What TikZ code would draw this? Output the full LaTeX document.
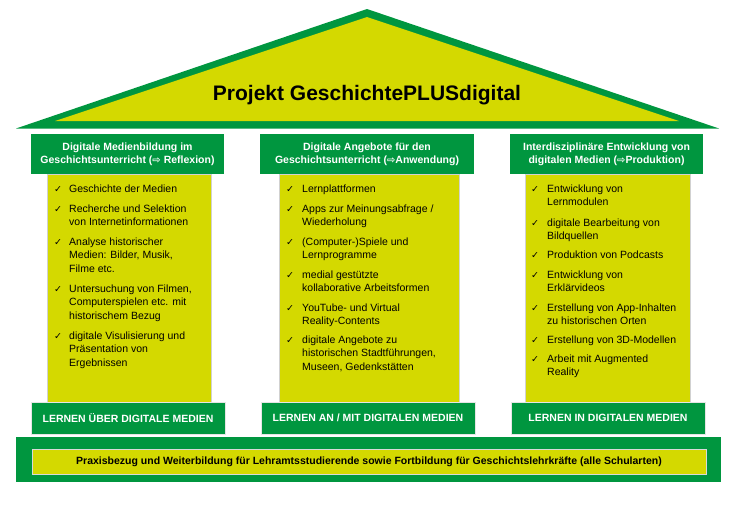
\documentclass[tikz,border=0pt]{standalone}
\usepackage{fontspec}
\setmainfont{Liberation Sans}
\newfontfamily\dejavu{DejaVu Sans}
\definecolor{pgreen}{HTML}{00963F}
\definecolor{pyellow}{HTML}{D4D900}
\newcommand\arr{{\dejavu\fontsize{10}{10}\selectfont ⇨}}
\begin{document}
\begin{tikzpicture}[x=1pt,y=-1pt,
  col/.style={fill=pyellow, draw=black!18, line width=0.4pt, inner sep=0},
  hdr/.style={fill=pgreen, text=white, font=\bfseries\fontsize{10.5}{13.3}\selectfont, align=center, inner sep=0},
  foot/.style={fill=pgreen, draw=black!10, line width=0.4pt, text=white, font=\bfseries\fontsize{10.5}{12}\selectfont, inner sep=0},
  chk/.style={anchor=base west, inner sep=0, font=\dejavu\fontsize{9.5}{9.5}\selectfont},
  itm/.style={anchor=base west, inner sep=0, font=\fontsize{10.5}{13.5}\selectfont}
]
\useasboundingbox (0,0) rectangle (735,520);
% roof
\fill[pgreen] (367,9) -- (719,128.5) -- (16,128.5) -- cycle;
\fill[pyellow] (367,17) -- (679,121) -- (55,121) -- cycle;
\node[anchor=base, inner sep=0, font=\bfseries\fontsize{21}{24}\selectfont] (title) at (367,100) {Projekt GeschichtePLUSdigital};
% columns
\node[col, minimum width=164, minimum height=228] (c1) at (129,288) {};
\node[col, minimum width=180, minimum height=228] (c2) at (369,288) {};
\node[col, minimum width=165, minimum height=228] (c3) at (607.5,288) {};
% headers
\node[hdr, minimum width=193, minimum height=40] (h1) at (127.5,154) {Digitale Medienbildung im\\Geschichtsunterricht (\arr\ Reflexion)};
\node[hdr, minimum width=214, minimum height=40] (h2) at (367,154) {Digitale Angebote für den\\Geschichtsunterricht (\arr Anwendung)};
\node[hdr, minimum width=193, minimum height=40] (h3) at (606.5,154) {Interdisziplinäre Entwicklung von\\digitalen Medien (\arr Produktion)};
% items left
\node[chk] (k1) at (54,192) {✓};
\node[itm] (l1) at (69,192) {\begin{tabular}[t]{@{}l@{}}Geschichte der Medien\end{tabular}};
\node[chk] (k2) at (54,212) {✓};
\node[itm] (l2) at (69,212) {\begin{tabular}[t]{@{}l@{}}Recherche und Selektion\\von Internetinformationen\end{tabular}};
\node[chk] (k3) at (54,245) {✓};
\node[itm] (l3) at (69,245) {\begin{tabular}[t]{@{}l@{}}Analyse historischer\\Medien: Bilder, Musik,\\Filme etc.\end{tabular}};
\node[chk] (k4) at (54,292) {✓};
\node[itm] (l4) at (69,292) {\begin{tabular}[t]{@{}l@{}}Untersuchung von Filmen,\\Computerspielen etc. mit\\historischem Bezug\end{tabular}};
\node[chk] (k5) at (54,339) {✓};
\node[itm] (l5) at (69,339) {\begin{tabular}[t]{@{}l@{}}digitale Visulisierung und\\Präsentation von\\Ergebnissen\end{tabular}};
% items middle
\node[chk] (n1) at (286,192) {✓};
\node[itm] (m1) at (302,192) {\begin{tabular}[t]{@{}l@{}}Lernplattformen\end{tabular}};
\node[chk] (n2) at (286,212) {✓};
\node[itm] (m2) at (302,212) {\begin{tabular}[t]{@{}l@{}}Apps zur Meinungsabfrage /\\Wiederholung\end{tabular}};
\node[chk] (n3) at (286,245) {✓};
\node[itm] (m3) at (302,245) {\begin{tabular}[t]{@{}l@{}}(Computer-)Spiele und\\Lernprogramme\end{tabular}};
\node[chk] (n4) at (286,278) {✓};
\node[itm] (m4) at (302,278) {\begin{tabular}[t]{@{}l@{}}medial gestützte\\kollaborative Arbeitsformen\end{tabular}};
\node[chk] (n5) at (286,311) {✓};
\node[itm] (m5) at (302,311) {\begin{tabular}[t]{@{}l@{}}YouTube- und Virtual\\Reality-Contents\end{tabular}};
\node[chk] (n6) at (286,343) {✓};
\node[itm] (m6) at (302,343) {\begin{tabular}[t]{@{}l@{}}digitale Angebote zu\\historischen Stadtführungen,\\Museen, Gedenkstätten\end{tabular}};
% items right
\node[chk] (q1) at (531,192) {✓};
\node[itm] (r1) at (547,192) {\begin{tabular}[t]{@{}l@{}}Entwicklung von\\Lernmodulen\end{tabular}};
\node[chk] (q2) at (531,226) {✓};
\node[itm] (r2) at (547,226) {\begin{tabular}[t]{@{}l@{}}digitale Bearbeitung von\\Bildquellen\end{tabular}};
\node[chk] (q3) at (531,258) {✓};
\node[itm] (r3) at (547,258) {\begin{tabular}[t]{@{}l@{}}Produktion von Podcasts\end{tabular}};
\node[chk] (q4) at (531,278) {✓};
\node[itm] (r4) at (547,278) {\begin{tabular}[t]{@{}l@{}}Entwicklung von\\Erklärvideos\end{tabular}};
\node[chk] (q5) at (531,311) {✓};
\node[itm] (r5) at (547,311) {\begin{tabular}[t]{@{}l@{}}Erstellung von App-Inhalten\\zu historischen Orten\end{tabular}};
\node[chk] (q6) at (531,343) {✓};
\node[itm] (r6) at (547,343) {\begin{tabular}[t]{@{}l@{}}Erstellung von 3D-Modellen\end{tabular}};
\node[chk] (q7) at (531,362) {✓};
\node[itm] (r7) at (547,362) {\begin{tabular}[t]{@{}l@{}}Arbeit mit Augmented\\Reality\end{tabular}};
% bottom labels
\node[foot, minimum width=194, minimum height=32] (b1) at (128,418) {LERNEN ÜBER DIGITALE MEDIEN};
\node[foot, minimum width=214, minimum height=32] (b2) at (368,418) {LERNEN AN / MIT DIGITALEN MEDIEN};
\node[foot, minimum width=194, minimum height=32] (b3) at (608,418) {LERNEN IN DIGITALEN MEDIEN};
% foundation
\node[fill=pgreen, minimum width=705, minimum height=45, inner sep=0] (base) at (368.5,459.5) {};
\node[fill=pyellow, draw=black!15, line width=0.4pt, minimum width=674, minimum height=25, inner sep=0, font=\bfseries\fontsize{10.5}{12}\selectfont] (basetext) at (369,461.5) {Praxisbezug und Weiterbildung für Lehramtsstudierende sowie Fortbildung für Geschichtslehrkräfte (alle Schularten)};
\end{tikzpicture}
\end{document}
